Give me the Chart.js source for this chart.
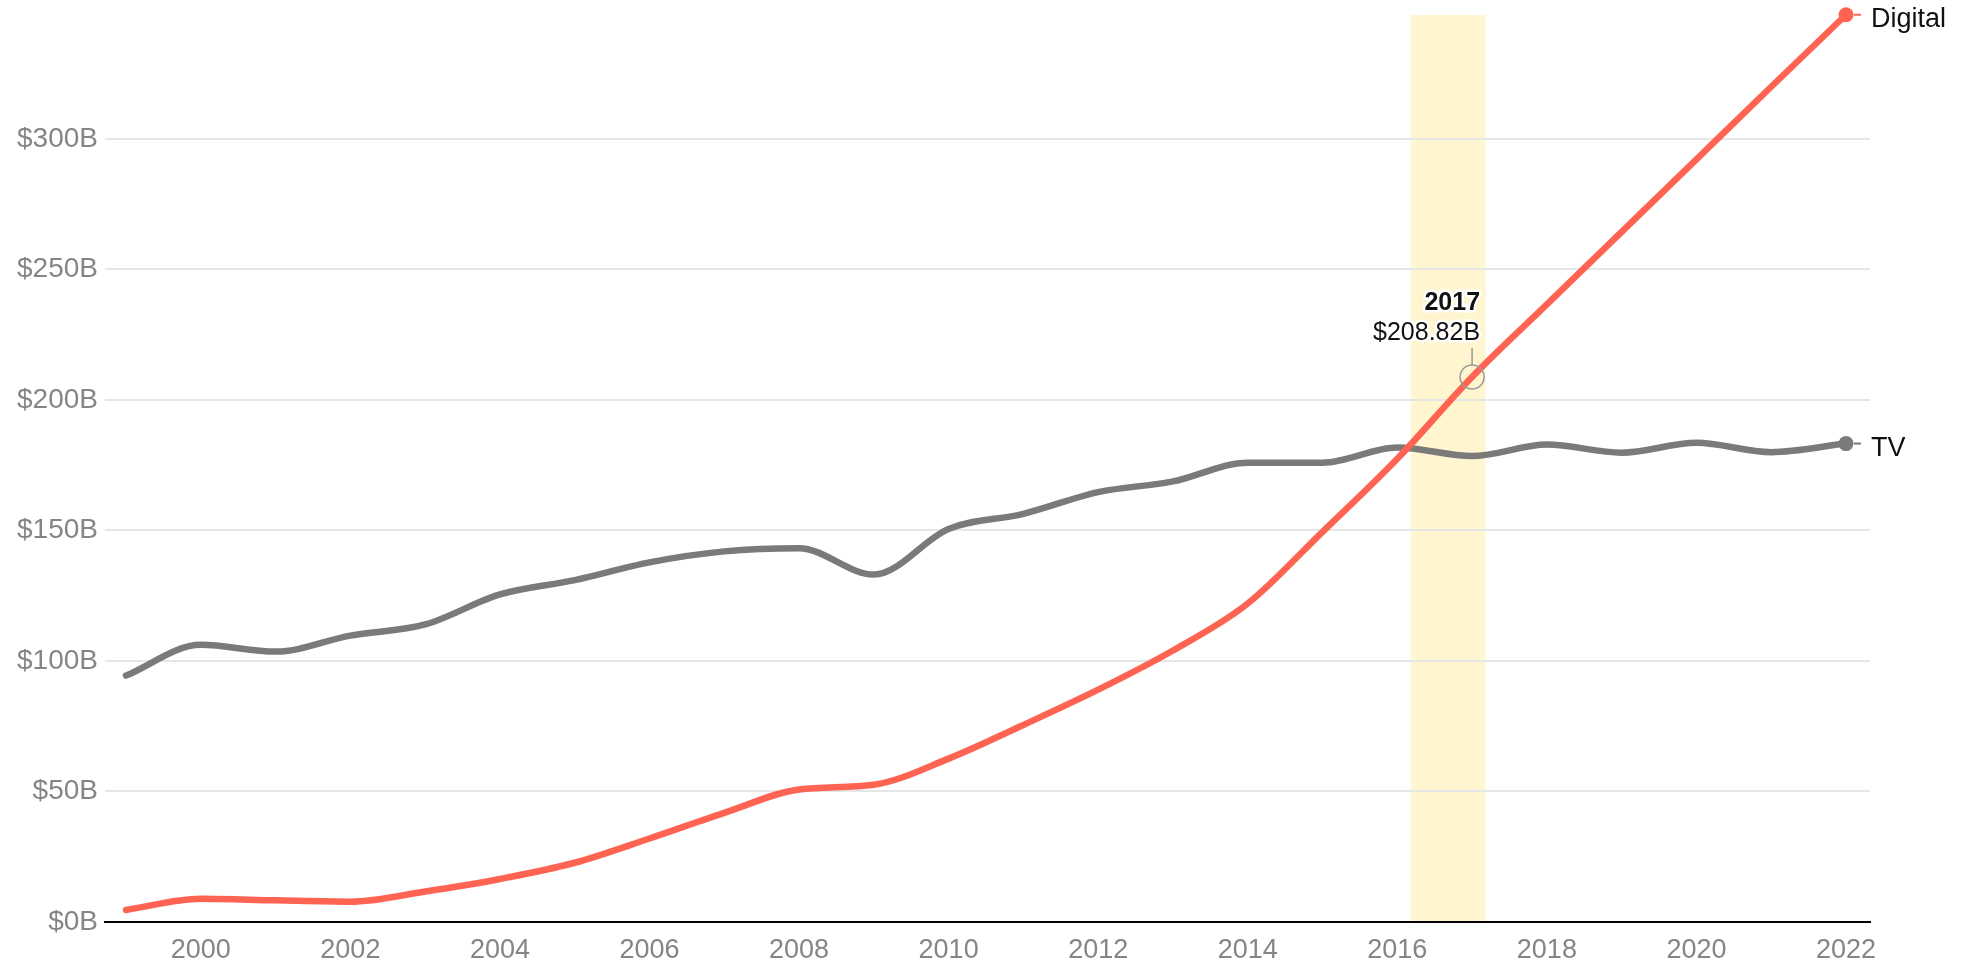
<!DOCTYPE html>
<html>
<head>
<meta charset="utf-8">
<script src="https://cdn.jsdelivr.net/npm/chart.js@4"></script>
<style>
html,body{margin:0;padding:0;background:#fff;}
#wrap{width:1968px;height:964px;position:relative;}
</style>
</head>
<body>
<div id="wrap"><canvas id="c"></canvas></div>
<script>
const years = [1999,2000,2001,2002,2003,2004,2005,2006,2007,2008,2009,2010,2011,2012,2013,2014,2015,2016,2017,2018,2019,2020,2021,2022];
const tvValues = [94.4,106.2,103.6,109.7,114.0,125.5,131.0,137.8,142.0,143.2,133.1,150.6,156.4,164.7,168.8,176.0,176.0,181.8,178.5,182.9,179.8,183.6,180.0,183.3];
const digitalValues = [4.6,8.9,8.3,7.8,11.7,16.5,22.7,32.0,41.8,50.8,52.6,62.6,75.5,89.0,104.0,122.0,149.5,177.5,208.82,236.6,264.4,292.2,320.0,347.6];
const seriesNames = ["Digital","TV"];
const yTickValues = [0,50,100,150,200,250,300];
const xTickValues = [2000,2002,2004,2006,2008,2010,2012,2014,2016,2018,2020,2022];
const highlightRange = [2016.18, 2017.18];
const hoverYear = 2017;

const RED = '#ff6352', GRAY = '#7a7a7a';
const FONT = '"Liberation Sans", Arial, sans-serif';

const bandPlugin = {
  id: 'band',
  beforeDraw(chart) {
    const {ctx, chartArea, scales:{x}} = chart;
    const x0 = x.getPixelForValue(highlightRange[0]);
    const x1 = x.getPixelForValue(highlightRange[1]);
    ctx.save();
    ctx.fillStyle = '#fff6cf';
    ctx.fillRect(x0, chartArea.top, x1 - x0, chartArea.bottom - chartArea.top);
    ctx.restore();
  }
};

const labelPlugin = {
  id: 'endLabels',
  afterDatasetsDraw(chart) {
    const {ctx} = chart;
    ctx.save();
    chart.data.datasets.forEach((ds, i) => {
      const meta = chart.getDatasetMeta(i);
      const pt = meta.data[meta.data.length - 1];
      ctx.strokeStyle = ds.borderColor;
      ctx.lineWidth = 2;
      ctx.beginPath();
      ctx.moveTo(pt.x + 8, pt.y);
      ctx.lineTo(pt.x + 15, pt.y);
      ctx.stroke();
      ctx.font = '27px ' + FONT;
      ctx.fillStyle = '#111';
      ctx.textAlign = 'left';
      ctx.textBaseline = 'middle';
      ctx.fillText(ds.label, pt.x + 25, pt.y + 5);
    });
    // hover annotation
    const x = chart.scales.x, y = chart.scales.y;
    const idx = years.indexOf(hoverYear);
    const v = digitalValues[idx];
    const cx = x.getPixelForValue(hoverYear), cy = y.getPixelForValue(v);
    ctx.strokeStyle = '#999';
    ctx.lineWidth = 1.5;
    ctx.beginPath();
    ctx.arc(cx, cy, 12, 0, Math.PI * 2);
    ctx.stroke();
    ctx.beginPath();
    ctx.moveTo(cx, cy - 12);
    ctx.lineTo(cx, cy - 29);
    ctx.stroke();
    ctx.textAlign = 'right';
    ctx.textBaseline = 'middle';
    ctx.lineJoin = 'round';
    const tx = cx + 8;
    const lines = [[String(hoverYear), 'bold 25px ' + FONT, cy - 74], ['$' + v.toFixed(2) + 'B', '25px ' + FONT, cy - 44]];
    lines.forEach(([t, f, ty]) => {
      ctx.font = f;
      ctx.strokeStyle = '#fff';
      ctx.lineWidth = 5;
      ctx.strokeText(t, tx, ty);
      ctx.fillStyle = '#111';
      ctx.fillText(t, tx, ty);
    });
    ctx.restore();
  }
};

function lastOnly(r) { return years.map((_, i) => i === years.length - 1 ? r : 0); }

new Chart(document.getElementById('c'), {
  type: 'line',
  data: {
    datasets: [
      { label: seriesNames[0], data: years.map((yr, i) => ({x: yr, y: digitalValues[i]})),
        borderColor: RED, backgroundColor: RED, borderWidth: 6.5, cubicInterpolationMode: 'monotone',
        pointRadius: lastOnly(7.5), pointHoverRadius: 0, pointBorderWidth: 0, borderCapStyle: 'round', clip: false },
      { label: seriesNames[1], data: years.map((yr, i) => ({x: yr, y: tvValues[i]})),
        borderColor: GRAY, backgroundColor: GRAY, borderWidth: 6.5, cubicInterpolationMode: 'monotone',
        pointRadius: lastOnly(7.5), pointHoverRadius: 0, pointBorderWidth: 0, borderCapStyle: 'round', clip: false }
    ]
  },
  options: {
    responsive: true, maintainAspectRatio: false, animation: false,
    layout: { padding: { top: 15, right: 98, left: 0, bottom: 0 } },
    plugins: { legend: { display: false }, tooltip: { enabled: false } },
    events: [],
    scales: {
      x: {
        type: 'linear', min: 1998.719, max: 2022.321,
        afterBuildTicks: s => { s.ticks = xTickValues.map(v => ({value: v})); },
        afterFit: s => { s.height = 42; s.paddingLeft = 0; s.paddingRight = 0; },
        grid: { display: false, drawTicks: false },
        border: { display: true, color: '#000', width: 2 },
        ticks: { color: '#858585', font: { size: 27, family: FONT }, padding: 12, maxRotation: 0, autoSkip: false,
                 callback: v => String(v) }
      },
      y: {
        min: 0, max: 347.5,
        afterBuildTicks: s => { s.ticks = yTickValues.map(v => ({value: v})); },
        afterFit: s => { s.width = 105; s.paddingTop = 0; s.paddingBottom = 0; },
        grid: { color: c => c.tick && c.tick.value === 0 ? 'rgba(0,0,0,0)' : '#e6e6e6', lineWidth: 2, drawTicks: false },
        border: { display: false },
        ticks: { color: '#858585', font: { size: 28, family: FONT }, padding: 7,
                 callback: v => '$' + v + 'B' }
      }
    }
  },
  plugins: [bandPlugin, labelPlugin]
});
</script>
</body>
</html>
